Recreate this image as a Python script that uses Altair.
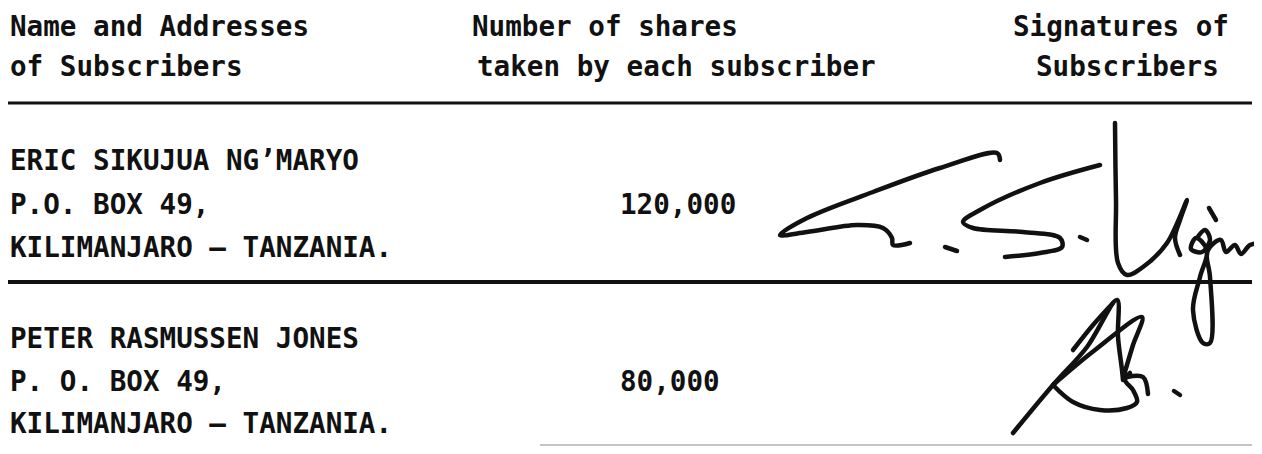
import altair as alt
import pandas as pd

# ---------------- content ----------------
header_col1 = ["Name and Addresses", "of Subscribers"]
header_col2 = ["Number of shares", "taken by each subscriber"]
header_col3 = ["Signatures  of", "Subscribers"]
subscriber_names = ["ERIC SIKUJUA NG’MARYO", "PETER RASMUSSEN JONES"]
subscriber_boxes = ["P.O. BOX 49,", "P. O. BOX 49,"]
subscriber_regions = ["KILIMANJARO – TANZANIA.", "KILIMANJARO – TANZANIA."]
shares_taken = [120000, 80000]

# signature traces (image pixel coords)
sig1_a_x = [1000, 997, 940, 873, 807, 780, 807, 857, 883, 892, 893, 910]
sig1_a_y = [160, 153, 168, 192, 218, 235, 232, 225, 228, 238, 245, 243]
sig1_b_x = [945, 957]
sig1_b_y = [247, 251]
sig1_c_x = [1100, 1040, 980, 963, 973, 1023, 1060, 1062, 1040, 1005]
sig1_c_y = [165, 183, 210, 222, 228, 232, 238, 247, 253, 257]
sig1_d_x = [1080, 1087]
sig1_d_y = [237, 240]
sig1_e_x = [1115, 1116, 1118, 1127, 1143, 1167, 1187, 1180, 1175, 1180]
sig1_e_y = [123, 200, 263, 275, 267, 243, 200, 220, 238, 255]
sig1_f_x = [1197, 1205, 1210, 1202, 1191, 1196, 1207, 1200, 1193, 1203, 1210, 1210, 1207, 1214, 1221, 1226, 1235, 1241, 1250, 1262]
sig1_f_y = [238, 230, 240, 252, 249, 238, 250, 277, 310, 343, 343, 277, 253, 243, 240, 252, 245, 254, 245, 243]
sig1_g_x = [1209, 1216]
sig1_g_y = [208, 220]

sig2_a_x = [1013, 1053, 1087, 1117, 1118, 1122, 1123]
sig2_a_y = [433, 385, 347, 300, 337, 370, 380]
sig2_b_x = [1073, 1093, 1113]
sig2_b_y = [350, 325, 303]
sig2_c_x = [1053, 1095, 1142, 1133, 1124]
sig2_c_y = [385, 350, 317, 345, 375]
sig2_d_x = [1053, 1073, 1100, 1127, 1137, 1133, 1125, 1130]
sig2_d_y = [385, 402, 410, 408, 402, 390, 380, 373]
sig2_e_x = [1127, 1143, 1148]
sig2_e_y = [377, 377, 394]
sig2_f_x = [1174, 1180]
sig2_f_y = [391, 395]

# ---------------- layout ----------------
PAGE_W, PAGE_H, MARGIN = 1262, 454, 8
FONT = "DejaVu Sans Mono"
FONT_SIZE = 27.6
header_x = [[10, 10], [472, 477], [1013, 1036]]
header_y = [28, 68]
row_y = [[162, 206, 249], [340, 383, 425]]
name_x = 10
share_x = 620
rule_x = [5, 5, 540]
rule_x2 = [1252, 1252, 1252]
rule_y = [103, 282, 445]
rule_w = [3, 4, 2]
rule_c = ["#111111", "#111111", "#c4c4c4"]

# ---------------- tables ----------------
texts = []
for ci, col in enumerate([header_col1, header_col2, header_col3]):
    for li, t in enumerate(col):
        texts.append({"x": header_x[ci][li], "y": header_y[li], "t": t})
for r in range(len(subscriber_names)):
    texts.append({"x": name_x, "y": row_y[r][0], "t": subscriber_names[r]})
    texts.append({"x": name_x, "y": row_y[r][1], "t": subscriber_boxes[r]})
    texts.append({"x": name_x, "y": row_y[r][2], "t": subscriber_regions[r]})
    texts.append({"x": share_x, "y": row_y[r][1], "t": f"{shares_taken[r]:,}"})
text_df = pd.DataFrame(texts)

rule_df = pd.DataFrame({"x": rule_x, "x2": rule_x2, "y": rule_y, "w": rule_w, "c": rule_c})

strokes = {
    "1a": (sig1_a_x, sig1_a_y), "1b": (sig1_b_x, sig1_b_y), "1c": (sig1_c_x, sig1_c_y),
    "1d": (sig1_d_x, sig1_d_y), "1e": (sig1_e_x, sig1_e_y), "1f": (sig1_f_x, sig1_f_y),
    "1g": (sig1_g_x, sig1_g_y),
    "2a": (sig2_a_x, sig2_a_y), "2b": (sig2_b_x, sig2_b_y), "2c": (sig2_c_x, sig2_c_y),
    "2d": (sig2_d_x, sig2_d_y), "2e": (sig2_e_x, sig2_e_y), "2f": (sig2_f_x, sig2_f_y),
}
rows = []
for k, (xs_, ys_) in strokes.items():
    for i, (a, b) in enumerate(zip(xs_, ys_)):
        rows.append({"s": k, "o": i, "x": a, "y": b})
sig_df = pd.DataFrame(rows)

W = PAGE_W - 2 * MARGIN
H = PAGE_H - 2 * MARGIN
xs = alt.Scale(domain=[MARGIN, PAGE_W - MARGIN], range=[0, W], nice=False, zero=False)
ys = alt.Scale(domain=[MARGIN, PAGE_H - MARGIN], range=[0, H], nice=False, zero=False)

text_layer = alt.Chart(text_df).mark_text(
    align="left", baseline="middle", font=FONT, fontSize=FONT_SIZE,
    fontWeight="bold", color="#111111"
).encode(
    x=alt.X("x:Q", scale=xs, axis=None),
    y=alt.Y("y:Q", scale=ys, axis=None),
    text="t:N",
)

rule_layer = alt.Chart(rule_df).mark_rule().encode(
    x=alt.X("x:Q", scale=xs, axis=None),
    x2="x2:Q",
    y=alt.Y("y:Q", scale=ys, axis=None),
    strokeWidth=alt.StrokeWidth("w:Q", scale=None),
    color=alt.Color("c:N", scale=None),
)

sig_layer = alt.Chart(sig_df).mark_line(
    color="#111111", strokeWidth=4.5, strokeCap="round", strokeJoin="round",
    interpolate="catmull-rom"
).encode(
    x=alt.X("x:Q", scale=xs, axis=None),
    y=alt.Y("y:Q", scale=ys, axis=None),
    detail="s:N",
    order="o:Q",
)

chart = alt.layer(rule_layer, sig_layer, text_layer).properties(
    width=W, height=H, padding=0, autosize=alt.AutoSizeParams(type="none"),
    background="white",
).configure_view(stroke=None)

chart.save("out.html", embed_options={"renderer": "svg", "actions": False})
